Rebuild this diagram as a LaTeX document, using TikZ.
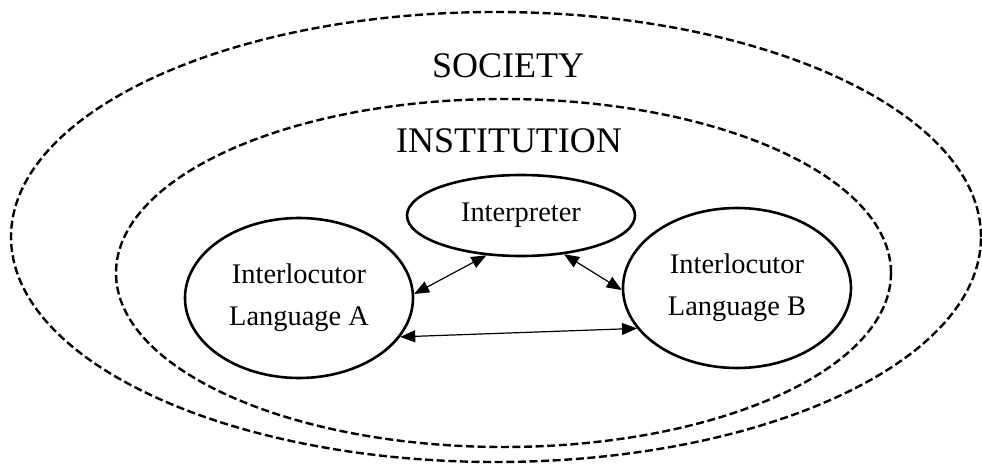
\documentclass[tikz,border=0pt]{standalone}
\usepackage{fontspec}
\setmainfont{Liberation Serif}
\usetikzlibrary{positioning,shapes.geometric,arrows.meta}

\begin{document}
\begin{tikzpicture}[x=0.5pt,y=-0.5pt,
    party/.style={draw, ellipse, line width=1.3pt, inner sep=0pt,
      minimum width=114pt, minimum height=80pt, align=center,
      font=\fontsize{14.2}{21}\selectfont},
    ring/.style={draw, line width=1.2pt, dash pattern=on 4pt off 1.8pt},
    link/.style={{Triangle[length=7.5pt,width=6pt]}-{Triangle[length=7.5pt,width=6pt]},
      line width=0.6pt},
    title/.style={anchor=base, font=\fontsize{18}{22}\selectfont}]
  \useasboundingbox (0,0) rectangle (982,466);
  % society and institution
  \draw[ring] (496,237) ellipse [x radius=242.5pt, y radius=112.5pt];
  \draw[ring] (503.5,273) ellipse [x radius=193.75pt, y radius=87pt];
  \node[title] (society) at (508,77) {SOCIETY};
  \node[title] (institution) at (509,152) {INSTITUTION};
  % the three parties
  \node[party, minimum height=40.5pt] (interp) at (521,215.5) {Interpreter};
  \node[party] (langA) at (299,298) {Interlocutor\\Language A};
  \node[party] (langB) at (737,288) {Interlocutor\\Language B};
  \draw[link] (langA.2) -- (interp.-131);
  \draw[link] (interp.-42) -- (langB.-179);
  \draw[link] (langA.-21) -- (langB.-158);
\end{tikzpicture}
\end{document}
